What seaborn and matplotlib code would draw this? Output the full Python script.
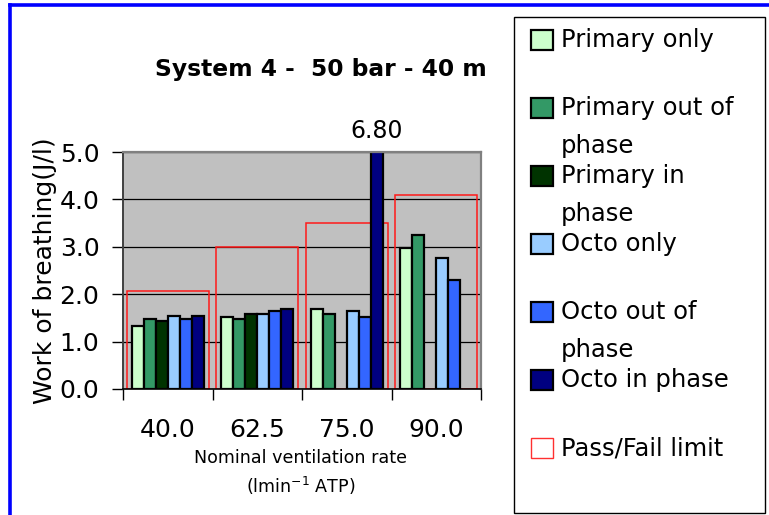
import textwrap
import numpy as np
import pandas as pd
import matplotlib
matplotlib.use("Agg")
import matplotlib.pyplot as plt
from matplotlib.patches import Rectangle
from matplotlib.lines import Line2D
import seaborn as sns

# ---------------- data ----------------
categories = ["40.0", "62.5", "75.0", "90.0"]
series_names = ["Primary only", "Primary out of phase", "Primary in phase",
                "Octo only", "Octo out of phase", "Octo in phase"]
primary_only = [1.33, 1.52, 1.69, 2.98]
primary_out_of_phase = [1.47, 1.48, 1.59, 3.24]
primary_in_phase = [1.43, 1.59, np.nan, np.nan]
octo_only = [1.53, 1.59, 1.64, 2.77]
octo_out_of_phase = [1.48, 1.64, 1.52, 2.29]
octo_in_phase = [1.53, 1.69, 6.80, np.nan]
pass_fail_limit = [2.07, 3.00, 3.51, 4.10]
limit_name = "Pass/Fail limit"
y_ticks = [0.0, 1.0, 2.0, 3.0, 4.0, 5.0]

title = "System 4 -  50 bar - 40 m"
y_label = "Work of breathing(J/l)"
x_label_1 = "Nominal ventilation rate"
x_label_2 = r"(lmin$^{-1}$ ATP)"

colors = ["#CCFFCC", "#339966", "#003300", "#99CCFF", "#3366FF", "#000080"]

series_values = [primary_only, primary_out_of_phase, primary_in_phase,
                 octo_only, octo_out_of_phase, octo_in_phase]
rows = []
for name, vals in zip(series_names, series_values):
    for cat, v in zip(categories, vals):
        rows.append({"rate": cat, "series": name, "wob": v})
df = pd.DataFrame(rows)

# ---------------- figure ----------------
W, H = 769, 515
fig = plt.figure(figsize=(W / 100, H / 100), dpi=100)
plt.rcParams["font.family"] = ["DejaVu Sans"]


def fx(x):
    return x / W


def fy(y):
    return 1 - y / H


ax_l, ax_r, ax_t, ax_b = 123, 481, 152, 389
ax = fig.add_axes([fx(ax_l), fy(ax_b), fx(ax_r) - fx(ax_l), fy(ax_t) - fy(ax_b)])
ax.set_facecolor("#C0C0C0")
ax.set_axisbelow(True)

# pass/fail limit (drawn first so it sits behind the data bars)
sns.barplot(x=categories, y=pass_fail_limit, order=categories, width=0.92,
            fill=False, color="red", linewidth=1.1, errorbar=None, ax=ax)
for p in list(ax.patches):
    p.set_edgecolor("#FF1A1A")
    p.set_facecolor("none")
n_limit = len(ax.patches)

sns.barplot(data=df, x="rate", y="wob", hue="series", order=categories,
            hue_order=series_names, palette=colors, saturation=1, width=0.8,
            edgecolor="black", linewidth=1.6, errorbar=None, legend=False, ax=ax)

ax.set_xlim(-0.5, len(categories) - 0.5)
ax.set_ylim(0, 5)

# y axis
ax.set_yticks(y_ticks)
ax.set_yticklabels([f"{t:.1f}" for t in y_ticks], fontsize=18)
ax.tick_params(axis="y", direction="out", length=8, width=1, pad=9, color="black")
ax.yaxis.grid(True, color="black", linewidth=0.9)
ax.xaxis.grid(False)

# x axis: tick marks at category boundaries, labels at centres
ax.set_xticks(np.arange(len(categories) + 1) - 0.5)
ax.set_xticklabels([""] * (len(categories) + 1))
ax.set_xticks(np.arange(len(categories)), minor=True)
ax.set_xticklabels(categories, minor=True, fontsize=18)
ax.tick_params(axis="x", which="major", direction="out", length=8, width=1)
ax.tick_params(axis="x", which="minor", length=0, pad=21)
ax.set_xlabel("")

ax.set_ylabel(y_label, fontsize=18)
ax.yaxis.set_label_coords((57 - ax_l) / (ax_r - ax_l), 0.5)

for s in ["top", "right"]:
    ax.spines[s].set_color("#808080")
    ax.spines[s].set_linewidth(1.6)
ax.spines["left"].set_color("#404040")
ax.spines["left"].set_linewidth(1.4)
ax.spines["bottom"].set_color("black")
ax.spines["bottom"].set_linewidth(1.2)

# data label for the clipped bar
for p in ax.patches[n_limit:]:
    h = p.get_height()
    if np.isfinite(h) and h > 5:
        ax.annotate(f"{h:.2f}", xy=(p.get_x() + p.get_width() / 2, 5.0),
                    xytext=(0, 10), textcoords="offset points", ha="center",
                    va="baseline", fontsize=17, annotation_clip=False)

# title and x axis label lines
fig.text(fx(321), fy(70), title, ha="center", va="center", fontsize=16.8,
         fontweight="bold")
fig.text(fx(301), fy(463), x_label_1, ha="center", va="baseline", fontsize=12.6)
fig.text(fx(301), fy(493), x_label_2, ha="center", va="baseline", fontsize=12.6)

# ---------------- legend ----------------
fig.add_artist(Rectangle((fx(514), fy(513)), fx(765) - fx(514), fy(17) - fy(513),
                         transform=fig.transFigure, fill=False,
                         edgecolor="black", linewidth=1))
leg_labels = series_names + [limit_name]
leg_face = colors + ["white"]
leg_edge = ["black"] * len(colors) + ["#FF3030"]
leg_lw = [1.6] * len(colors) + [1.0]
for i, (lab, fc, ec, lw) in enumerate(zip(leg_labels, leg_face, leg_edge, leg_lw)):
    cy = 40 + 68 * i
    fig.add_artist(Rectangle((fx(531), fy(cy + 10)), fx(553) - fx(531),
                             fy(cy - 10) - fy(cy + 10),
                             transform=fig.transFigure, facecolor=fc,
                             edgecolor=ec, linewidth=lw))
    for j, line in enumerate(textwrap.wrap(lab, 15)):
        fig.text(fx(561), fy(cy + 7 + 38 * j), line, ha="left", va="baseline",
                 fontsize=17.5)

# blue outer frame
fig.add_artist(Line2D([fx(10), 1.0], [fy(5.3), fy(5.3)], transform=fig.transFigure,
                      color="#0000FF", linewidth=2.6))
fig.add_artist(Line2D([fx(10), fx(10)], [fy(5.3), 0.0], transform=fig.transFigure,
                      color="#0000FF", linewidth=2.6))

fig.savefig("out.png", dpi=100)
